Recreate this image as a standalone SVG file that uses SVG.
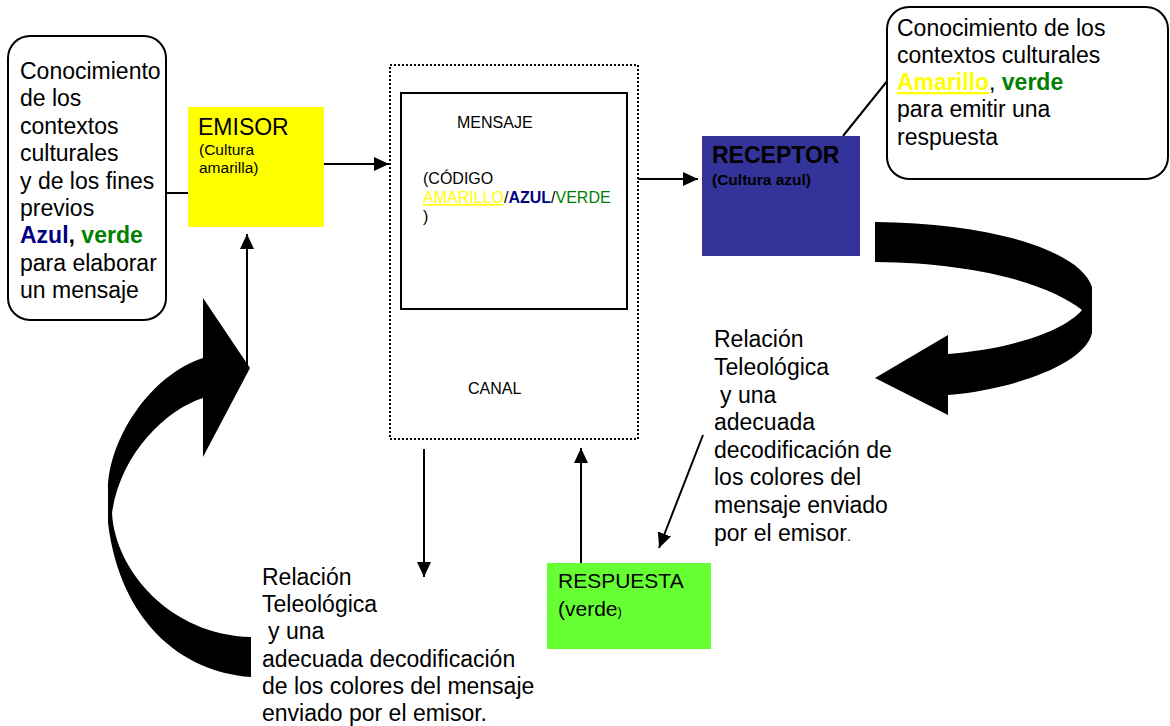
<svg xmlns="http://www.w3.org/2000/svg" width="1170" height="726" viewBox="0 0 1170 726">
<defs>
<marker id="ah" markerUnits="userSpaceOnUse" markerWidth="16" markerHeight="16" viewBox="0 0 16 16" refX="15" refY="8" orient="auto">
<path d="M0,1 L15,8 L0,15 Z" fill="#000"/>
</marker>
</defs>
<style>
text{font-family:"Liberation Sans",Arial,sans-serif;fill:#000}
.b{font-size:23px}
.s{font-size:16px}
.xs{font-size:15.5px}
.bold{font-weight:bold}
.ln{stroke:#000;stroke-width:2;fill:none}
.box{fill:#fff;stroke:#000;stroke-width:2}
</style>
<rect width="1170" height="726" fill="#fff"/>

<g id="connectors">
<line class="ln" x1="166" y1="193" x2="188" y2="193"/>
<line class="ln" x1="324" y1="164" x2="389" y2="164" marker-end="url(#ah)"/>
<line class="ln" x1="638" y1="179" x2="698" y2="179" marker-end="url(#ah)"/>
<line class="ln" x1="247" y1="365" x2="247" y2="234" marker-end="url(#ah)"/>
<line class="ln" x1="424" y1="449" x2="424" y2="577" marker-end="url(#ah)"/>
<line class="ln" x1="581" y1="563" x2="581" y2="448" marker-end="url(#ah)"/>
<line class="ln" x1="703" y1="435" x2="659" y2="548" marker-end="url(#ah)"/>
<line class="ln" x1="843" y1="136" x2="888" y2="80"/>
<path id="arrowRight" fill="#000" d="M875,222 C990,223 1080,250 1092,287 L1092,333 C1085,365 1010,390 948,395 L948,415 L875,378 L948,335 L948,354 C1000,350 1060,335 1082,310 C1050,285 980,263 875,262 Z"/>
<path id="arrowLeft" fill="#000" d="M251,677 C180,672 120,620 108,523 L108,490 C108,440 150,375 203,358 L203,298 L250,368 L203,457 L203,398 C165,410 120,455 112,513 C115,570 170,635 251,637 Z"/>
</g>

<g id="conocimiento-emisor">
<rect class="box" x="8" y="36" width="158" height="284" rx="22"/>
<text class="b" x="20"><tspan x="20" y="79">Conocimiento</tspan><tspan x="20" y="106">de los</tspan><tspan x="20" y="134">contextos</tspan><tspan x="20" y="161">culturales</tspan><tspan x="20" y="189">y de los fines</tspan><tspan x="20" y="216">previos</tspan><tspan x="20" y="243" class="bold" fill="#000080">Azul</tspan><tspan class="bold">, </tspan><tspan class="bold" fill="#008000">verde</tspan><tspan x="20" y="271">para elaborar</tspan><tspan x="20" y="298">un mensaje</tspan></text>
</g>

<g id="emisor">
<rect x="188" y="107" width="136" height="120" fill="#ffff00"/>
<text class="b" x="198" y="135">EMISOR</text>
<text class="xs"><tspan x="199" y="155">(Cultura</tspan><tspan x="199" y="173">amarilla)</tspan></text>
</g>

<g id="canal">
<rect x="390" y="65" width="248" height="374" fill="none" stroke="#000" stroke-width="2" stroke-dasharray="2 2"/>
<text class="s" x="468" y="394">CANAL</text>
</g>

<g id="mensaje">
<rect x="401" y="93" width="226" height="216" fill="none" stroke="#000" stroke-width="2"/>
<text class="s" x="457" y="128">MENSAJE</text>
<text class="s"><tspan x="423" y="184">(CÓDIGO</tspan><tspan x="423" y="203" fill="#ffff00" text-decoration="underline">AMARILLO</tspan><tspan>/</tspan><tspan class="bold" fill="#000080">AZUL</tspan><tspan>/</tspan><tspan fill="#008000">VERDE</tspan><tspan x="423" y="222">)</tspan></text>
</g>

<g id="receptor">
<rect x="702" y="136" width="158" height="120" fill="#333399"/>
<text class="b bold" x="712" y="163">RECEPTOR</text>
<text class="xs bold" x="712" y="185">(Cultura azul)</text>
</g>

<g id="conocimiento-receptor">
<rect class="box" x="887" y="7" width="281" height="172" rx="22"/>
<text class="b"><tspan x="897" y="36">Conocimiento de los</tspan><tspan x="897" y="63">contextos culturales</tspan><tspan x="897" y="90" class="bold" fill="#ffff00" text-decoration="underline">Amarillo</tspan><tspan>, </tspan><tspan class="bold" fill="#008000">verde</tspan><tspan x="897" y="117">para emitir una</tspan><tspan x="897" y="145">respuesta</tspan></text>
</g>

<g id="relacion-receptor">
<text class="b"><tspan x="714" y="347">Relación</tspan><tspan x="714" y="375">Teleológica</tspan><tspan x="720" y="403">y una</tspan><tspan x="714" y="430">adecuada</tspan><tspan x="714" y="458">decodificación de</tspan><tspan x="714" y="485">los colores del</tspan><tspan x="714" y="513">mensaje enviado</tspan><tspan x="714" y="541">por el emisor</tspan><tspan style="font-size:15px">.</tspan></text>
</g>

<g id="relacion-emisor">
<text class="b"><tspan x="262" y="585">Relación</tspan><tspan x="262" y="612">Teleológica</tspan><tspan x="268" y="639">y una</tspan><tspan x="262" y="667">adecuada decodificación</tspan><tspan x="262" y="694">de los colores del mensaje</tspan><tspan x="262" y="721">enviado por el emisor.</tspan></text>
</g>

<g id="respuesta">
<rect x="547" y="563" width="164" height="86" fill="#66ff33"/>
<text style="font-size:21px"><tspan x="558" y="588">RESPUESTA</tspan><tspan x="558" y="616">(verde</tspan><tspan style="font-size:13px">)</tspan></text>
</g>
</svg>
